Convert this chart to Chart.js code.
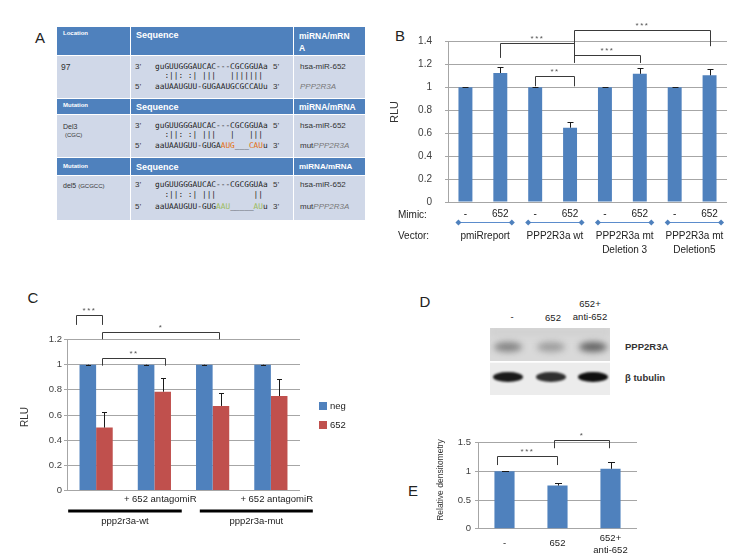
<!DOCTYPE html>
<html>
<head>
<meta charset="utf-8">
<script src="https://cdn.jsdelivr.net/npm/chart.js@4.4.1/dist/chart.umd.min.js"></script>
<style>
  body { margin:0; width:732px; height:560px; position:relative; background:#fff; overflow:hidden;
         font-family:"Liberation Sans", Arial, sans-serif; color:#222; }
  .t  { position:absolute; white-space:pre; line-height:1; transform:translateY(-50%); }
  .tc { position:absolute; white-space:pre; line-height:1; transform:translate(-50%,-50%); }
  .cell { position:absolute; }
  .hd { background:#4f81bd; }
  .bd { background:#d0d8e8; }
  .w  { color:#fff; font-weight:bold; }
  .seq { font-family:"DejaVu Sans Mono", monospace; font-size:7.8px; color:#222; }
  .b8 { font-size:8px; color:#333; }
  .or { color:#e46c0a; }
  .gr { color:#9bbb59; }
  .it { font-style:italic; color:#777; }
  .letter { font-size:15px; color:#222; }
  canvas { position:absolute; }
</style>
</head>
<body>

<!-- panel letters -->
<div class="tc letter" style="left:40px;top:37px">A</div>
<div class="tc letter" style="left:400px;top:35px">B</div>
<div class="tc letter" style="left:33px;top:297px">C</div>
<div class="tc letter" style="left:425px;top:301px">D</div>
<div class="tc letter" style="left:413px;top:490px">E</div>

<!-- panel A: table -->
<div id="table"></div>
<div class="t w" style="left:63px;top:33px;font-size:6px">Location</div>
<div class="t w" style="left:136px;top:35px;font-size:9px">Sequence</div>
<div class="t w" style="left:299px;top:36px;font-size:8.5px">miRNA/mRN</div>
<div class="t w" style="left:299px;top:48px;font-size:8.5px">A</div>

<div class="t b8" style="left:61px;top:67px;font-size:8.5px">97</div>
<div class="t b8" style="left:135px;top:67px">3’</div>
<div class="t seq" style="left:155px;top:67px">guGUUGGGAUCAC---CGCGGUAa</div>
<div class="t b8" style="left:273px;top:67px">5’</div>
<div class="t seq" style="left:155px;top:76px">  :||: :| |||   |||||||</div>
<div class="t b8" style="left:135px;top:87px">5’</div>
<div class="t seq" style="left:155px;top:87px">aaUAAUGUU-GUGAAUGCGCCAUu</div>
<div class="t b8" style="left:273px;top:87px">3’</div>
<div class="t b8" style="left:300px;top:67px">hsa-miR-652</div>
<div class="t b8 it" style="left:300px;top:87px">PPP2R3A</div>

<div class="t w" style="left:63px;top:105px;font-size:6px">Mutation</div>
<div class="t w" style="left:136px;top:107px;font-size:9px">Sequence</div>
<div class="t w" style="left:299px;top:107px;font-size:8.5px">miRNA/mRNA</div>

<div class="t b8" style="left:63px;top:126px;font-size:7px">Del3</div>
<div class="t b8" style="left:65px;top:135px;font-size:6px">(CGC)</div>
<div class="t b8" style="left:135px;top:126px">3’</div>
<div class="t seq" style="left:155px;top:126px">guGUUGGGAUCAC---CGCGGUAa</div>
<div class="t b8" style="left:273px;top:126px">5’</div>
<div class="t seq" style="left:155px;top:135px">  :||: :| |||   |   |||</div>
<div class="t b8" style="left:135px;top:146px">5’</div>
<div class="t seq" style="left:155px;top:146px">aaUAAUGUU-GUGA<span class="or">AUG</span>___<span class="or">CAU</span>u</div>
<div class="t b8" style="left:273px;top:146px">3’</div>
<div class="t b8" style="left:300px;top:126px">hsa-miR-652</div>
<div class="t b8" style="left:300px;top:146px">mut<span class="it">PPP2R3A</span></div>

<div class="t w" style="left:63px;top:166px;font-size:6px">Mutation</div>
<div class="t w" style="left:136px;top:167px;font-size:9px">Sequence</div>
<div class="t w" style="left:299px;top:167px;font-size:8px">miRNA/mRNA</div>

<div class="t b8" style="left:63px;top:185px;font-size:7px">del5 <span style="font-size:6px">(GCGCC)</span></div>
<div class="t b8" style="left:135px;top:185px">3’</div>
<div class="t seq" style="left:155px;top:185px">guGUUGGGAUCAC---CGCGGUAa</div>
<div class="t b8" style="left:273px;top:185px">5’</div>
<div class="t seq" style="left:155px;top:195px">  :||: :| |||        ||</div>
<div class="t b8" style="left:135px;top:207px">5’</div>
<div class="t seq" style="left:155px;top:207px">aaUAAUGUU-GUG<span class="gr">AAU</span>_____<span class="gr">AU</span>u</div>
<div class="t b8" style="left:273px;top:207px">3’</div>
<div class="t b8" style="left:300px;top:185px">hsa-miR-652</div>
<div class="t b8" style="left:300px;top:207px">mut<span class="it">PPP2R3A</span></div>

<!-- panel D: blot -->
<canvas id="blot" width="120" height="67" style="left:490px;top:328px"></canvas>
<div class="tc" style="left:512px;top:317px;font-size:9.5px">-</div>
<div class="tc" style="left:553px;top:318px;font-size:9.5px">652</div>
<div class="tc" style="left:590px;top:304px;font-size:9.5px">652+</div>
<div class="tc" style="left:590px;top:317px;font-size:9.5px">anti-652</div>
<div class="t" style="left:625px;top:347px;font-size:9.5px;font-weight:bold;color:#333">PPP2R3A</div>
<div class="t" style="left:625px;top:378px;font-size:9.5px;font-weight:bold;color:#333">β tubulin</div>

<canvas id="chartB" width="352" height="280" style="left:380px;top:0px"></canvas>
<canvas id="chartC" width="380" height="280" style="left:0px;top:280px"></canvas>
<canvas id="chartE" width="312" height="140" style="left:420px;top:420px"></canvas>

<script>
// ── Data ───────────────────────────────────────────────────────────
// B: luciferase, mimic per vector
const bMimic  = ['-', '652', '-', '652', '-', '652', '-', '652'];
const bRLU    = [1, 1.125, 1, 0.648, 1, 1.118, 1, 1.105];
const bErr    = [0, 0.055, 0, 0.05, 0, 0.055, 0, 0.058];
const bVector = [['pmiRreport'], ['PPP2R3a wt'], ['PPP2R3a mt', 'Deletion 3'], ['PPP2R3a mt', 'Deletion5']];

// C: neg vs 652, +/- antagomiR, wt vs mut
const cGroups     = ['', '+ 652 antagomiR', '', '+ 652 antagomiR'];
const cSeries     = ['neg', '652'];
const cNeg        = [1, 1, 1, 1];
const cNegErr     = [0, 0, 0, 0];
const c652        = [0.5, 0.785, 0.672, 0.751];
const c652Err     = [0.12, 0.107, 0.1, 0.135];
const cConstructs = ['ppp2r3a-wt', 'ppp2r3a-mut'];

// E: densitometry
const eLabels = [['-'], ['652'], ['652+', 'anti-652']];
const eDens   = [1, 0.752, 1.045];
const eErr    = [0, 0.04, 0.125];

// significance brackets (category index, value units)
const bSig = [
  { from: 3.1, to: 7, y: 1.5,   l: 1.213, r: 1.359, txt: '***' },
  { from: 1,   to: 3.1, y: 1.389, l: 1.257, r: 1.389, txt: '***' },
  { from: 3.1, to: 5, y: 1.28,  l: 1.28,  r: 1.213, txt: '***' },
  { from: 2,   to: 3.1, y: 1.096, l: 1.009, r: 1.009, txt: '**' }
];
const cSig = [
  { from: -0.35, to: 0.1,  y: 1.395, l: 1.316, r: 1.316, txt: '***' },
  { from: 0.1,   to: 2.11, y: 1.262, l: 1.202, r: 1.202, txt: '*' },
  { from: 0.1,   to: 1.18, y: 1.051, l: 0.992, r: 0.992, txt: '**' }
];
const eSig = [
  { from: -0.14, to: 0.99, y: 1.269, l: 1.11,  r: 1.11,  txt: '***' },
  { from: 0.93,  to: 1.97, y: 1.548, l: 1.403, r: 1.403, txt: '*' }
];

const BLUE = '#4f81bd', RED = '#c0504d', GRID = '#a6a6a6';
const FONT = '"Liberation Sans", Arial, sans-serif';
Chart.defaults.font.family = FONT;
Chart.defaults.color = '#333';
Chart.defaults.animation = false;

// ── Plugin: error bars, brackets, extra labels ─────────────────────
function extras(sig, cap, labels) {
  return {
    id: 'extras',
    afterDatasetsDraw(chart) {
      const ctx = chart.ctx, ys = chart.scales.y;
      ctx.save();
      ctx.strokeStyle = '#1a1a1a'; ctx.lineWidth = 1;
      chart.data.datasets.forEach((ds, di) => {
        chart.getDatasetMeta(di).data.forEach((bar, i) => {
          const x = Math.round(bar.x) + 0.5;
          const top = Math.round(ys.getPixelForValue(ds.data[i] + ds.errors[i])) + 0.5;
          ctx.beginPath();
          ctx.moveTo(x, bar.y); ctx.lineTo(x, top);
          ctx.moveTo(x - cap, top); ctx.lineTo(x + cap, top);
          ctx.stroke();
        });
      });
      ctx.restore();
    },
    afterDraw(chart) {
      const ctx = chart.ctx, xs = chart.scales.x, ys = chart.scales.y;
      ctx.save();
      ctx.strokeStyle = '#3a3a3a'; ctx.lineWidth = 1;
      ctx.fillStyle = '#555'; ctx.font = '8px ' + FONT;
      ctx.textAlign = 'center'; ctx.textBaseline = 'middle';
      ctx.letterSpacing = '1.5px';
      sig.forEach(s => {
        const x1 = Math.round(xs.getPixelForValue(s.from)) + 0.5;
        const x2 = Math.round(xs.getPixelForValue(s.to)) + 0.5;
        const y = Math.round(ys.getPixelForValue(s.y)) + 0.5;
        ctx.beginPath();
        ctx.moveTo(x1, ys.getPixelForValue(s.l)); ctx.lineTo(x1, y);
        ctx.lineTo(x2, y); ctx.lineTo(x2, ys.getPixelForValue(s.r));
        ctx.stroke();
        ctx.fillText(s.txt, (x1 + x2) / 2, y - 5);
      });
      ctx.restore();
      ctx.save();
      labels(chart, ctx, xs, ys);
      ctx.restore();
    }
  };
}

function vTitle(ctx, text, x, y, size) {
  ctx.save();
  ctx.translate(x, y); ctx.rotate(-Math.PI / 2);
  ctx.font = size + 'px ' + FONT; ctx.fillStyle = '#333';
  ctx.textAlign = 'center'; ctx.textBaseline = 'middle';
  ctx.fillText(text, 0, 0);
  ctx.restore();
}

function yAxis(max, step, width, pad, size) {
  return {
    min: 0, max: max,
    ticks: { stepSize: step, padding: pad, color: '#404040', font: { size: size },
             callback: v => String(+v.toFixed(2)) },
    grid: { color: GRID, tickLength: 3 },
    border: { color: GRID },
    afterFit: s => { s.width = width; }
  };
}

// ── B ──────────────────────────────────────────────────────────────
new Chart(document.getElementById('chartB'), {
  type: 'bar',
  data: {
    labels: bMimic,
    datasets: [{ data: bRLU, errors: bErr, backgroundColor: BLUE, barPercentage: 0.4, categoryPercentage: 1 }]
  },
  options: {
    responsive: false,
    layout: { padding: { left: 0, right: 5, top: 41.5, bottom: 78 } },
    plugins: { legend: { display: false }, tooltip: { enabled: false } },
    scales: { x: { display: false }, y: yAxis(1.4, 0.2, 68, 13, 10) }
  },
  plugins: [extras(bSig, 3, (chart, ctx, xs) => {
    const bottom = chart.chartArea.bottom;
    ctx.fillStyle = '#222'; ctx.font = '10px ' + FONT; ctx.textBaseline = 'middle';
    ctx.textAlign = 'left';
    ctx.fillText('Mimic:', 18, bottom + 13);
    ctx.fillText('Vector:', 18, bottom + 34);
    ctx.textAlign = 'center';
    bMimic.forEach((m, i) => ctx.fillText(m, xs.getPixelForValue(i), bottom + 12));
    bVector.forEach((v, k) => {
      const a = xs.getPixelForValue(2 * k - 0.2), b = xs.getPixelForValue(2 * k + 1.33), y = bottom + 20.5;
      ctx.strokeStyle = '#5b8ccc'; ctx.lineWidth = 1;
      ctx.beginPath(); ctx.moveTo(a, y); ctx.lineTo(b, y); ctx.stroke();
      ctx.fillStyle = '#4f81bd';
      [a, b].forEach(px => {
        ctx.beginPath();
        ctx.moveTo(px - 3, y); ctx.lineTo(px, y - 3); ctx.lineTo(px + 3, y); ctx.lineTo(px, y + 3);
        ctx.closePath(); ctx.fill();
      });
      ctx.fillStyle = '#222';
      v.forEach((s, j) => ctx.fillText(s, (a + b) / 2, bottom + 34 + j * 14));
    });
    vTitle(ctx, 'RLU', 15, 112, 11);
  })]
});

// ── C ──────────────────────────────────────────────────────────────
new Chart(document.getElementById('chartC'), {
  type: 'bar',
  data: {
    labels: cGroups,
    datasets: [
      { label: cSeries[0], data: cNeg, errors: cNegErr, backgroundColor: BLUE, barPercentage: 1, categoryPercentage: 0.57 },
      { label: cSeries[1], data: c652, errors: c652Err, backgroundColor: RED, barPercentage: 1, categoryPercentage: 0.57 }
    ]
  },
  options: {
    responsive: false,
    layout: { padding: { left: 0, right: 80, top: 59.5, bottom: 69.5 } },
    plugins: { legend: { display: false }, tooltip: { enabled: false } },
    scales: { x: { display: false }, y: yAxis(1.2, 0.2, 67, 2, 9.5) }
  },
  plugins: [extras(cSig, 2.5, (chart, ctx, xs) => {
    const bottom = chart.chartArea.bottom;
    ctx.fillStyle = '#222'; ctx.font = '9.5px ' + FONT;
    ctx.textAlign = 'center'; ctx.textBaseline = 'middle';
    cGroups.forEach((g, i) => ctx.fillText(g, xs.getPixelForValue(i + 0.1), bottom + 8.5));
    ctx.strokeStyle = '#000'; ctx.lineWidth = 3;
    const spans = [[-0.48, 1.47], [1.78, 3.72]];
    cConstructs.forEach((c, k) => {
      const a = xs.getPixelForValue(spans[k][0]), b = xs.getPixelForValue(spans[k][1]);
      ctx.beginPath(); ctx.moveTo(a, bottom + 20.5); ctx.lineTo(b, bottom + 20.5); ctx.stroke();
      ctx.fillText(c, (a + b) / 2, bottom + 31);
    });
    // legend
    ctx.textAlign = 'left';
    chart.data.datasets.forEach((ds, i) => {
      const y = 126 + i * 19;
      ctx.fillStyle = ds.backgroundColor; ctx.fillRect(319, y - 4, 8, 8);
      ctx.fillStyle = '#222'; ctx.fillText(ds.label, 330, y);
    });
    vTitle(ctx, 'RLU', 25, 137, 10);
  })]
});

// ── E ──────────────────────────────────────────────────────────────
new Chart(document.getElementById('chartE'), {
  type: 'bar',
  data: {
    labels: eLabels,
    datasets: [{ data: eDens, errors: eErr, backgroundColor: BLUE, barPercentage: 0.38, categoryPercentage: 1 }]
  },
  options: {
    responsive: false,
    layout: { padding: { left: 0, right: 95, top: 22.7, bottom: 31.3 } },
    plugins: { legend: { display: false }, tooltip: { enabled: false } },
    scales: { x: { display: false }, y: yAxis(1.5, 0.5, 58, 4, 9.5) }
  },
  plugins: [extras(eSig, 3.5, (chart, ctx, xs) => {
    const bottom = chart.chartArea.bottom;
    ctx.fillStyle = '#222'; ctx.font = '9.5px ' + FONT;
    ctx.textAlign = 'center'; ctx.textBaseline = 'middle';
    eLabels.forEach((l, i) => {
      const y0 = l.length > 1 ? bottom + 9.5 : bottom + 14.5;
      l.forEach((s, j) => ctx.fillText(s, xs.getPixelForValue(i), y0 + j * 12));
    });
    vTitle(ctx, 'Relative densitometry', 21, 60, 8.5);
  })]
});

// ── A: table cells ─────────────────────────────────────────────────
const colX = [57, 130, 293, 365];
const rowY = [27, 55, 98, 114, 157, 175, 220];
const table = document.getElementById('table');
for (let r = 0; r < rowY.length - 1; r++) {
  for (let c = 0; c < colX.length - 1; c++) {
    const d = document.createElement('div');
    d.className = 'cell ' + (r % 2 ? 'bd' : 'hd');
    const l = colX[c] + (c ? 1 : 0), t = rowY[r] + (r ? 1 : 0);
    d.style.cssText = `left:${l}px;top:${t}px;width:${colX[c + 1] - l}px;height:${rowY[r + 1] - t}px`;
    table.appendChild(d);
  }
}

// ── D: western blot ────────────────────────────────────────────────
(function drawBlot() {
  const g = document.getElementById('blot').getContext('2d');
  g.fillStyle = '#d9d9d9'; g.fillRect(0, 0, 120, 33);
  g.fillStyle = '#ececec'; g.fillRect(0, 34.5, 120, 33);
  const lanes = [18, 61, 103];
  g.filter = 'blur(3px)';
  g.fillStyle = 'rgba(200,200,200,0.5)'; g.fillRect(0, 0, 120, 8);
  [0.5, 0.35, 0.7].forEach((a, i) => {
    g.fillStyle = `rgba(50,50,50,${a})`;
    g.beginPath(); g.ellipse(lanes[i], 19, 14, 5, 0, 0, Math.PI * 2); g.fill();
  });
  g.filter = 'blur(1.2px)';
  [0.95, 0.85, 1].forEach((a, i) => {
    g.fillStyle = `rgba(15,15,15,${a})`;
    g.beginPath(); g.ellipse(lanes[i], 49, 15, 5, 0, 0, Math.PI * 2); g.fill();
  });
  g.filter = 'none';
  g.fillStyle = '#fff'; g.fillRect(0, 33, 120, 1.5);
})();
</script>
</body>
</html>
